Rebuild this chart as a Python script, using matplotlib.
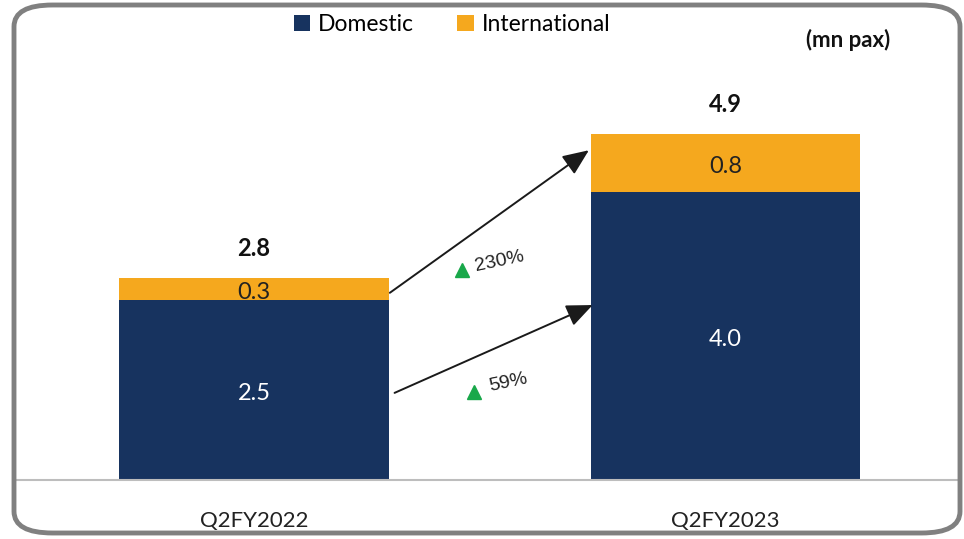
import matplotlib
matplotlib.use("Agg")
import matplotlib.pyplot as plt
import matplotlib.patches as mpatches
from matplotlib.patches import FancyBboxPatch

# ── 데이터 ──────────────────────────────────────────
periods = ["Q2FY2022", "Q2FY2023"]
domestic = [2.5, 4.0]
international = [0.3, 0.8]
totals = [2.8, 4.9]
growth_labels = ["230%", "59%"]

NAVY = "#17335f"
ORANGE = "#f5a81e"
GREEN = "#19a84a"
BODY = ["Lato", "DejaVu Sans"]

fig = plt.figure(figsize=(9.64, 5.39), dpi=100, facecolor="white")

# 둥근 테두리 프레임
frame = FancyBboxPatch((14 / 964, 6 / 539), 946 / 964, 528 / 539,
                       boxstyle="round,pad=0,rounding_size=0.04",
                       transform=fig.transFigure, facecolor="none",
                       edgecolor="#808080", linewidth=3.5, zorder=0)
fig.patches.append(frame)

ax = fig.add_axes([14 / 964, 59 / 539, 946 / 964, 432 / 539])
ax.set_facecolor("none")
x = list(range(len(periods)))
w = 0.572
ax.bar(x, domestic, width=w, color=NAVY, zorder=2)
ax.bar(x, international, width=w, bottom=domestic, color=ORANGE, zorder=2)

ax.set_xlim(-0.509, 1.497)
ax.set_ylim(0, 6)
for s in ("top", "left", "right"):
    ax.spines[s].set_visible(False)
ax.spines["bottom"].set_color("#bdbdbd")
ax.spines["bottom"].set_linewidth(1.5)
ax.set_yticks([])
ax.set_xticks(x)
ax.set_xticklabels(periods, family=BODY, fontsize=16, color="#222222")
ax.tick_params(axis="x", length=0, pad=22)

# 값 라벨
for i in x:
    top = domestic[i] + international[i]
    ax.text(i, domestic[i] / 2 - 0.05, f"{domestic[i]:.1f}", ha="center", va="center",
            color="white", fontsize=17, family=BODY)
    ax.text(i, domestic[i] + international[i] / 2 - 0.05, f"{international[i]:.1f}",
            ha="center", va="center", color="#222222", fontsize=17, family=BODY)
    ax.text(i, top + 0.42, f"{totals[i]:.1f}", ha="center", va="center",
            color="#111111", fontsize=17, fontweight="bold", family=BODY)

# 성장 화살표
x0 = x[0] + w / 2
x1 = x[1] - w / 2
arrows = [((x0 + 0.002, 2.6), (x1 - 0.004, 4.58)),
          ((x0 + 0.012, 1.21), (x1 + 0.004, 2.43))]
for (p0, p1) in arrows:
    ax.annotate("", xy=p1, xytext=p0,
                arrowprops=dict(arrowstyle="-|>,head_length=0.8,head_width=0.34",
                                mutation_scale=20, color="#1a1a1a", lw=1.4,
                                shrinkA=0, shrinkB=0))

label_pos = [(0.52, 3.04), (0.54, 1.35)]
tri_pos = [(0.44, 2.91), (0.467, 1.22)]
for lab, (lx, ly), (tx, ty) in zip(growth_labels, label_pos, tri_pos):
    ax.plot(tx, ty, marker="^", color=GREEN, markersize=10, linestyle="none", zorder=3)
    ax.text(lx, ly, lab, ha="center", va="center", rotation=12,
            fontsize=14, family="Liberation Sans", color="#222222")

# 범례
handles = [mpatches.Patch(facecolor=NAVY, label="Domestic"),
           mpatches.Patch(facecolor=ORANGE, label="International")]
fig.legend(handles=handles, loc="center", bbox_to_anchor=(452 / 964, 1 - 25 / 539),
           ncol=2, frameon=False, prop=dict(family=BODY, size=16.5),
           handlelength=0.7, handleheight=0.7, handletextpad=0.35,
           columnspacing=1.9)

fig.text(890 / 964, 1 - 40 / 539, "(mn pax)", ha="right", va="center",
         fontsize=16, fontweight="bold", family=BODY, color="#111111")

fig.savefig("out.png", dpi=100, facecolor="white")
